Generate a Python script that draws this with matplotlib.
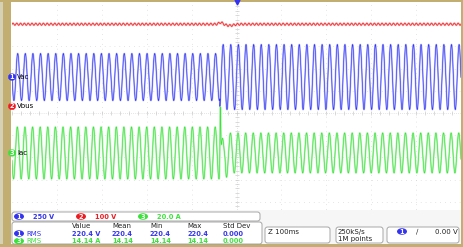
import numpy as np
import matplotlib.pyplot as plt
from matplotlib.patches import FancyBboxPatch, Rectangle, Ellipse

# ---- readings off the scope screen ----
ch_names = ['Vac', 'Vbus', 'Iac']
ch_colors = ['#3434f0', '#ee1c22', '#3ce23c']
ch_scale = [250, 100, 20]          # units per division
ch_offset = [1.62, 0.30, -1.80]    # ground marker position (div)
time_div = 100                      # ms / div

line_freq = 59.0                    # Hz as seen on screen
t_event = -37.0                     # ms, load step

vac_peak = [265, 366]               # V, before / after step
iac_peak = [23.4, 18.0]             # A, before / after step
iac_spike = 50.0                    # A, spike at the step
vbus_level = 370.0                  # V
vbus_ripple = 5.0                   # V
vbus_bump = [8.0, -6.0]             # V, overshoot then dip after step

meas_cols = ['Value', 'Mean', 'Min', 'Max', 'Std Dev']
meas_vac = ['220.4 V', '220.4', '220.4', '220.4', '0.000']
meas_iac = ['14.14 A', '14.14', '14.14', '14.14', '0.000']

W, H = 463, 247
fig = plt.figure(figsize=(W / 100, H / 100), dpi=100)
fig.patch.set_facecolor('white')

# graticule: x 12..461 px, y 2..224 px (10 x 10 div, bottom hidden)
x0, x1, y0, y1 = 12, 461, 2, 224
ax = fig.add_axes([x0 / W, 1 - y1 / H, (x1 - x0) / W, (y1 - y0) / H])
ax.set_xlim(-5, 5)
ax.set_ylim(-5, 5)
ax.set_facecolor('white')
for s in ax.spines.values():
    s.set_visible(False)
ax.set_xticks([])
ax.set_yticks([])

gc = '#cccccc'
for k in range(-4, 5):
    if k == 0:
        continue
    ax.axvline(k, color=gc, lw=0.5, ls=(0, (1, 6)), zorder=1)
    ax.axhline(k, color=gc, lw=0.5, ls=(0, (1, 6)), zorder=1)
ax.axvline(0, color=gc, lw=0.5, ls=(0, (1, 2)), zorder=1)
ax.axhline(0, color=gc, lw=0.5, ls=(0, (1, 2)), zorder=1)
minor = np.arange(-5, 5.01, 0.2)
ax.plot(minor, np.zeros_like(minor), '|', color=gc, ms=2.5, mew=0.5, zorder=1)
ax.plot(np.zeros_like(minor), minor, '_', color=gc, ms=2.5, mew=0.5, zorder=1)

t = np.linspace(-500, 500, 6000)
after = t >= t_event
w = 2 * np.pi * line_freq * t / 1000

vac = np.where(after, vac_peak[1], vac_peak[0]) * np.sin(w)
iac = np.where(after, iac_peak[1], iac_peak[0]) * np.sin(w + 0.3)
dt = t - t_event
iac += iac_spike * np.exp(-((dt - 1) / 1.2) ** 2)
iac -= 8 * np.exp(-((dt - 10) / 6) ** 2) * np.abs(np.sin(w))
vbus = vbus_level + vbus_ripple * np.sin(2 * w)
vbus += vbus_bump[0] * np.exp(-((dt - 2) / 6) ** 2)
vbus += vbus_bump[1] * np.exp(-((dt - 22) / 12) ** 2)

sigs = [vac, vbus, iac]
tx = t / time_div
for sig, col, sc, off, lite in zip(sigs, ch_colors, ch_scale, ch_offset,
                                   ['#b8bcff', '#f8b0b0', '#b4f4b4']):
    y = sig / sc + off
    ax.plot(tx, y, color=lite, lw=1.3, zorder=2)
    ax.plot(tx, y, color=col, lw=0.45, zorder=3)

# ---- overlay in pixel coordinates ----
ov = fig.add_axes([0, 0, 1, 1], zorder=5)
ov.set_xlim(0, W)
ov.set_ylim(H, 0)
ov.axis('off')
ov.patch.set_alpha(0)

tan = '#c3ae72'
ov.add_patch(Rectangle((0, 0), 11, H, color=tan, lw=0))
ov.add_patch(Rectangle((0, 0), 3, H, color='#d6d0b4', lw=0))
ov.add_patch(Rectangle((0, 0), W, 2, color=tan, lw=0))
ov.add_patch(Rectangle((461, 0), 2, H, color=tan, lw=0))
ov.add_patch(Rectangle((11, 210), 450, 34, color='#f6f6f6', lw=0))
ov.add_patch(Rectangle((0, 244), W, 3, color=tan, lw=0))

# trigger position marker
ov.plot([236.5], [2.5], marker='v', color=ch_colors[0], ms=3.5)

# channel ground markers
font = dict(fontsize=4.8, fontweight='bold')
for i, (name, col, off) in enumerate(zip(ch_names, ch_colors, ch_offset)):
    py = (y0 + y1) / 2 - off * (y1 - y0) / 10
    ov.add_patch(FancyBboxPatch((8.5, py - 3.2), 7, 6.4,
                                boxstyle='round,pad=0,rounding_size=3',
                                fc=col, ec=col, lw=0.4))
    ov.text(12, py, str(i + 1), color='white', ha='center', va='center',
            **font)
    ov.text(17, py, name, color='black', ha='left', va='center',
            fontsize=5)


def box(x, y, w, h):
    ov.add_patch(FancyBboxPatch((x, y), w, h,
                                boxstyle='round,pad=0,rounding_size=2.5',
                                fc='white', ec='#9a9a9a', lw=0.6))


def badge(x, y, n, col):
    ov.add_patch(Ellipse((x, y), 10, 6.5, color=col, lw=0))
    ov.text(x, y, str(n), color='white', ha='center', va='center', **font)


# channel scale row
box(12, 212, 248, 9)
for (bx, tx_, n, label, col) in [(19, 33, 1, '250 V', ch_colors[0]),
                                 (81, 95, 2, '100 V', ch_colors[1]),
                                 (143, 157, 3, '20.0 A', ch_colors[2])]:
    badge(bx, 216.5, n, col)
    ov.text(tx_, 216.8, label, color=col, ha='left', va='center', **font)

# measurement table
box(12, 222, 250, 22)
col_x = [72, 112, 150, 187, 223]
for cx, lab in zip(col_x, meas_cols):
    ov.text(cx, 226, lab, color='#222222', ha='left', va='center',
            fontsize=5)
for ry, n, col, vals in [(233.5, 1, ch_colors[0], meas_vac),
                         (241, 3, ch_colors[2], meas_iac)]:
    badge(19, ry, n, col)
    ov.text(26, ry, 'RMS', color=col, ha='left', va='center', fontsize=5)
    for cx, v in zip(col_x, vals):
        ov.text(cx, ry, v, color=col, ha='left', va='center', **font)

# timebase / acquisition / trigger boxes
box(265, 227, 65, 16)
ov.text(268, 231.5, 'Z 100ms', color='#222222', ha='left', va='center',
        fontsize=5)
box(336, 227, 47, 16)
ov.text(338, 231.5, '250kS/s', color='#222222', ha='left', va='center',
        fontsize=5)
ov.text(338, 239, '1M points', color='#222222', ha='left', va='center',
        fontsize=5)
box(387, 227, 72, 16)
badge(402, 231.5, 1, ch_colors[0])
ov.text(416, 231.5, '\u2215', color='#222222', ha='left', va='center',
        fontsize=5)
ov.text(435, 231.5, '0.00 V', color='#222222', ha='left', va='center',
        fontsize=5)

fig.savefig('out.png', dpi=100)
